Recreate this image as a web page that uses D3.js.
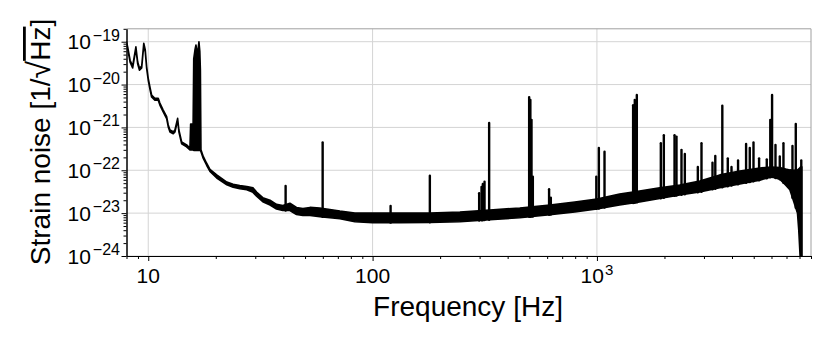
<!DOCTYPE html>
<html><head><meta charset="utf-8">
<script src="https://cdn.jsdelivr.net/npm/d3@7"></script>
<style>body{margin:0;background:#fff} text{font-family:"Liberation Sans", Arial, Helvetica, sans-serif; fill:#000}</style>
</head><body><svg id="c" width="831" height="339"></svg>
<script>
// ---- data ----
const bandFreq  = [8.0, 8.1, 8.3, 8.52, 8.81, 8.97, 9.14, 9.35, 9.55, 9.7, 9.84, 10.0, 10.2, 10.35, 10.7, 11.08, 11.27, 11.66, 12.08, 12.28, 12.5, 12.93, 13.15, 13.52, 13.7, 14.09, 14.83, 15.34, 15.45, 15.85, 15.95, 16.15, 16.32, 16.5, 16.7, 16.83, 16.98, 17.08, 17.18, 17.59, 18.21, 18.84, 20.2, 22.4, 23.9, 25.6, 27.5, 29.3, 30.4, 32.4, 34.9, 37.3, 39.8, 42.8, 45.8, 48.9, 52.6, 58.2, 71.5, 83.4, 100, 132, 180, 245, 333, 453, 617, 797, 1000, 1262, 1549, 1905, 2339, 2874, 3530, 4334, 5322, 6018, 6531, 6946, 7244, 7543, 7832, 7937, 8102, 8192];
const bandUpper = [1.0e-19, 7.5e-20, 3.7e-20, 2.7e-20, 7.6e-20, 3.4e-20, 2.4e-20, 2.7e-20, 9.2e-20, 6.4e-20, 2.6e-20, 1.4e-20, 8.2e-21, 5.7e-21, 4.8e-21, 4.8e-21, 3.7e-21, 2.55e-21, 1.78e-21, 1.14e-21, 8.7e-22, 7.9e-22, 8.7e-22, 1.63e-21, 8.7e-22, 4.6e-22, 3.9e-22, 3.3e-22, 1.2e-21, 1.2e-21, 4.0e-20, 6.4e-20, 8.4e-20, 5.5e-20, 7.1e-20, 1.0e-19, 6.0e-20, 2.2e-20, 3.0e-22, 2.1e-22, 1.46e-22, 1.05e-22, 7.8e-23, 5.3e-23, 4.7e-23, 4.4e-23, 4.2e-23, 3.9e-23, 3.1e-23, 2.3e-23, 2.0e-23, 1.6e-23, 1.5e-23, 1.7e-23, 1.36e-23, 1.28e-23, 1.36e-23, 1.32e-23, 1.12e-23, 1.01e-23, 1.01e-23, 1.01e-23, 1.01e-23, 1.06e-23, 1.18e-23, 1.32e-23, 1.55e-23, 1.82e-23, 2.14e-23, 2.8e-23, 3.3e-23, 3.9e-23, 4.5e-23, 5.6e-23, 7.8e-23, 9.6e-23, 1.13e-22, 1.19e-22, 1.16e-22, 1.07e-22, 1.02e-22, 1.0e-22, 1.02e-22, 1.07e-22, 1.2e-22, 1.2e-22];
const bandLower = [9.0e-20, 6.75e-20, 3.33e-20, 2.43e-20, 6.84e-20, 3.06e-20, 2.16e-20, 2.43e-20, 8.28e-20, 5.76e-20, 2.34e-20, 1.26e-20, 7.38e-21, 5.13e-21, 4.32e-21, 4.32e-21, 3.33e-21, 2.3e-21, 1.6e-21, 1.03e-21, 7.83e-22, 7.11e-22, 7.83e-22, 1.47e-21, 7.83e-22, 4.14e-22, 3.51e-22, 2.97e-22, 2.97e-22, 2.97e-22, 2.9e-22, 2.9e-22, 2.9e-22, 2.9e-22, 2.9e-22, 2.9e-22, 2.9e-22, 2.9e-22, 2.7e-22, 1.89e-22, 1.31e-22, 9.4e-23, 6.6e-23, 4.6e-23, 4.0e-23, 3.7e-23, 3.5e-23, 3.05e-23, 2.5e-23, 1.85e-23, 1.55e-23, 1.25e-23, 1.15e-23, 1.15e-23, 9.3e-24, 8.8e-24, 8.8e-24, 8.3e-24, 7.4e-24, 6.3e-24, 6.0e-24, 6.0e-24, 6.1e-24, 6.3e-24, 7.0e-24, 7.8e-24, 9.2e-24, 1.07e-23, 1.26e-23, 1.55e-23, 1.82e-23, 2.2e-23, 2.65e-23, 3.1e-23, 3.9e-23, 4.8e-23, 5.9e-23, 7.0e-23, 6.2e-23, 4.5e-23, 3.5e-23, 1.85e-23, 1.01e-23, 4.0e-24, 5e-25, 5e-25];
const spikeFreq = [40.96, 59.9, 120.3, 180, 298.6, 306, 310, 315.5, 330.8, 498.8, 505, 511, 518, 612, 623, 993.8, 1020, 1081, 1450, 1475, 1506, 1927, 1987, 2218, 2263, 2382, 2465, 2817, 2925, 3275, 3370, 3622, 3831, 3980, 4257, 4623, 4801, 4988, 5283, 5716, 5926, 6036, 6251, 6533, 6784, 7441, 7698, 8145];
const spikePeak = [4.3e-23, 4.45e-22, 1.47e-23, 7.5e-23, 2.9e-23, 4.1e-23, 4.8e-23, 5.4e-23, 1.27e-21, 5.1e-21, 4.4e-21, 1.5e-21, 7.1e-23, 3.6e-23, 2.3e-23, 7.1e-23, 3.3e-22, 2.7e-22, 3.3e-21, 4.4e-21, 5.7e-21, 4.3e-22, 6.6e-22, 6.6e-22, 6.1e-22, 3.0e-22, 2.4e-22, 1.2e-22, 4.3e-22, 1.5e-22, 2.15e-22, 3.2e-21, 1.9e-22, 1.2e-22, 1.7e-22, 4.1e-22, 3.3e-22, 4.45e-22, 1.9e-22, 1.8e-22, 1.5e-21, 5.7e-21, 3.9e-22, 2.1e-22, 4.3e-22, 3.7e-22, 1.2e-21, 1.7e-22];
const xMajorTicks = [10, 100, 1000];
const xTickLabels = [["10", ""], ["100", ""], ["10", "3"]];
const yMajorTicks = [1e-24, 1e-23, 1e-22, 1e-21, 1e-20, 1e-19];
const yTickLabels = [["10", "\u221224"], ["10", "\u221223"], ["10", "\u221222"], ["10", "\u221221"], ["10", "\u221220"], ["10", "\u221219"]];
const xTitle = "Frequency [Hz]";
const yTitleParts = ["Strain noise [1/", "\u221A", "Hz", "]"];

// ---- layout ----
const svg = d3.select("#c");
const L = 126.5, R = 811, T = 28.8, B = 256;
const x = d3.scaleLog().domain([8, 9000]).range([L, R]);
const y = d3.scaleLog().domain([1e-24, 2e-19]).range([B, T]);

const xMinor = [8, 9].concat(...xMajorTicks.map(t => d3.range(2, 10).map(j => j * t))).filter(v => v >= 8 && v <= 9000 && !xMajorTicks.includes(v));
const yMinor = [].concat(...yMajorTicks.map(t => d3.range(2, 10).map(j => j * t))).filter(v => v <= 2e-19);

// grid
const grid = svg.append("g").attr("stroke", "#d4d4d4").attr("stroke-width", 1);
xMajorTicks.forEach(t => grid.append("line").attr("x1", x(t)).attr("x2", x(t)).attr("y1", T).attr("y2", B));
yMajorTicks.forEach(t => grid.append("line").attr("x1", L).attr("x2", R).attr("y1", y(t)).attr("y2", y(t)));

// clip
svg.append("clipPath").attr("id", "clip").append("rect").attr("x", L).attr("y", T).attr("width", R - L).attr("height", B - T);
const plot = svg.append("g").attr("clip-path", "url(#clip)");

const bandData = bandFreq.map((f, i) => ({f, u: bandUpper[i], l: bandLower[i]}));
const area = d3.area().x(d => x(d.f)).y0(d => y(d.l)).y1(d => y(d.u));
plot.append("path").datum(bandData).attr("d", area)
  .attr("fill", "#000").attr("stroke", "#000").attr("stroke-width", 1.6).attr("stroke-linejoin", "round");

function lowerAt(f) {
  const i = Math.max(1, Math.min(bandFreq.length - 1, d3.bisectLeft(bandFreq, f)));
  const f0 = bandFreq[i - 1], f1 = bandFreq[i];
  const t = (Math.log(f) - Math.log(f0)) / (Math.log(f1) - Math.log(f0));
  return Math.exp(Math.log(bandLower[i - 1]) * (1 - t) + Math.log(bandLower[i]) * t);
}
spikeFreq.forEach((f, i) => {
  plot.append("line").attr("x1", x(f)).attr("x2", x(f))
    .attr("y1", y(spikePeak[i])).attr("y2", y(lowerAt(f)))
    .attr("stroke", "#000").attr("stroke-width", 2.4).attr("stroke-linecap", "round");
});

// spines
svg.append("line").attr("x1", L).attr("x2", R).attr("y1", T).attr("y2", T).attr("stroke", "#a0a0a0");
svg.append("line").attr("x1", R).attr("x2", R).attr("y1", T).attr("y2", B).attr("stroke", "#a0a0a0");

// axes ticks
const gx = svg.append("g").attr("transform", `translate(0,${B})`);
gx.call(d3.axisBottom(x).tickValues(xMinor).tickSize(3).tickFormat("").tickSizeOuter(0));
gx.append("g").call(d3.axisBottom(x).tickValues(xMajorTicks).tickSize(5).tickFormat("").tickSizeOuter(0));
const gy = svg.append("g").attr("transform", `translate(${L},0)`);
gy.call(d3.axisLeft(y).tickValues(yMinor).tickSize(3).tickFormat("").tickSizeOuter(0));
gy.append("g").call(d3.axisLeft(y).tickValues(yMajorTicks).tickSize(5).tickFormat("").tickSizeOuter(0));
svg.selectAll(".domain").attr("stroke", "#000");
svg.selectAll(".tick line").attr("stroke", "#000");

// tick labels
xMajorTicks.forEach((t, i) => {
  const tx = svg.append("text").attr("x", x(t)).attr("y", 283).attr("text-anchor", "middle").attr("font-size", 21);
  tx.append("tspan").text(xTickLabels[i][0]);
  if (xTickLabels[i][1]) tx.append("tspan").attr("dx", 1).attr("dy", -8.5).attr("font-size", 15).text(xTickLabels[i][1]);
});
yMajorTicks.forEach((t, i) => {
  const ty = svg.append("text").attr("x", 120).attr("y", y(t) + 7.5).attr("text-anchor", "end").attr("font-size", 21);
  ty.append("tspan").text(yTickLabels[i][0]);
  ty.append("tspan").attr("dx", 2).attr("dy", -8.5).attr("font-size", 16).text(yTickLabels[i][1]);
});

// titles
svg.append("text").attr("x", 468).attr("y", 316).attr("text-anchor", "middle").attr("font-size", 28).text(xTitle);
const yt = svg.append("text").attr("transform", "translate(50,142) rotate(-90)").attr("text-anchor", "middle").attr("font-size", 28);
yt.append("tspan").text(yTitleParts[0]);
yt.append("tspan").attr("font-size", 32).text(yTitleParts[1]);
yt.append("tspan").attr("text-decoration", "overline").text(yTitleParts[2]);
yt.append("tspan").text(yTitleParts[3]);
</script></body></html>
